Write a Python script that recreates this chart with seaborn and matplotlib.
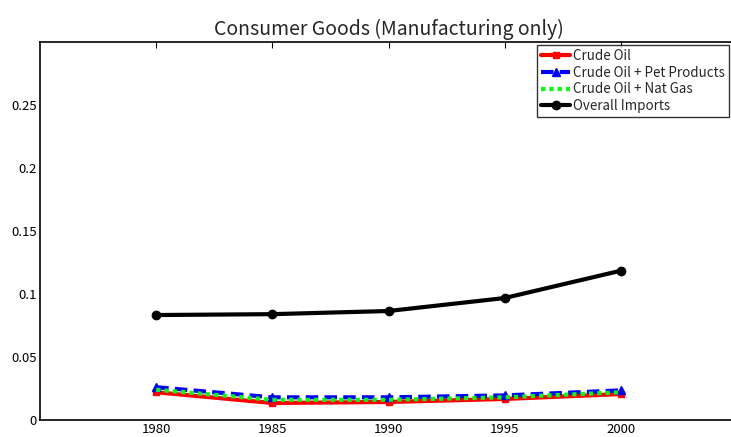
import matplotlib
matplotlib.use("Agg")
import matplotlib.pyplot as plt
import seaborn as sns
import pandas as pd

years = [1980, 1985, 1990, 1995, 2000]
crude_oil = [0.022, 0.0135, 0.0143, 0.0167, 0.0206]
crude_pet = [0.026, 0.018, 0.018, 0.0195, 0.0235]
crude_gas = [0.024, 0.016, 0.016, 0.018, 0.022]
overall = [0.0833, 0.084, 0.0865, 0.0968, 0.1185]

series_names = ["Crude Oil", "Crude Oil + Pet Products", "Crude Oil + Nat Gas", "Overall Imports"]
xtick_vals = [1980, 1985, 1990, 1995, 2000]
ytick_vals = [0, 0.05, 0.1, 0.15, 0.2, 0.25]
ytick_labels = ["0", "0.05", "0.1", "0.15", "0.2", "0.25"]
title = "Consumer Goods (Manufacturing only)"

sns.set_style("white")
plt.rcParams["font.family"] = ["Noto Sans CJK JP", "DejaVu Sans"]

fig = plt.figure(figsize=(7.31, 4.37), dpi=100)
W, H = 731, 437
ax = fig.add_axes([40 / W, (H - 420) / H, (737 - 40) / W, (420 - 42) / H])

df = pd.DataFrame({
    "year": years * 4,
    "value": crude_oil + crude_pet + crude_gas + overall,
    "series": sum([[n] * len(years) for n in series_names], []),
})

styles = {
    "Crude Oil": dict(color="#ff0000", marker="s", linestyle="-", markersize=5),
    "Crude Oil + Pet Products": dict(color="#0000ff", marker="^", linestyle=(0, (3, 1.5)), markersize=6),
    "Crude Oil + Nat Gas": dict(color="#00ff00", marker=None, linestyle=(0, (1, 1)), markersize=0),
    "Overall Imports": dict(color="#000000", marker="o", linestyle="-", markersize=6),
}

for name in series_names:
    st = styles[name]
    sub = df[df["series"] == name]
    sns.lineplot(data=sub, x="year", y="value", ax=ax, label=name,
                 color=st["color"], marker=st["marker"], linestyle=st["linestyle"],
                 markersize=st["markersize"], linewidth=3, markeredgecolor=st["color"],
                 markeredgewidth=1)

ax.set_xlim(1975, 2005)
ax.set_ylim(0, 0.3)
ax.set_xticks(xtick_vals)
ax.set_xticklabels([str(v) for v in xtick_vals])
ax.set_yticks(ytick_vals)
ax.set_yticklabels(ytick_labels)
ax.set_xlabel("")
ax.set_ylabel("")
ax.tick_params(direction="in", length=4, width=0.8, labelsize=9.5, top=True, right=False,
               colors="black", pad=2.5)
for sp in ax.spines.values():
    sp.set_color("black")
    sp.set_linewidth(1.2)
ax.set_title(title, fontsize=14, pad=5)

leg = ax.legend(loc="upper right", bbox_to_anchor=(729 / W, (H - 45) / H),
                bbox_transform=fig.transFigure, fontsize=9.6, frameon=True,
                fancybox=False, edgecolor="black", handlelength=2.2, handletextpad=0.2,
                labelspacing=0.2, borderpad=0.3, borderaxespad=0)
leg.get_frame().set_linewidth(1.0)

fig.savefig("out.png", dpi=100)
